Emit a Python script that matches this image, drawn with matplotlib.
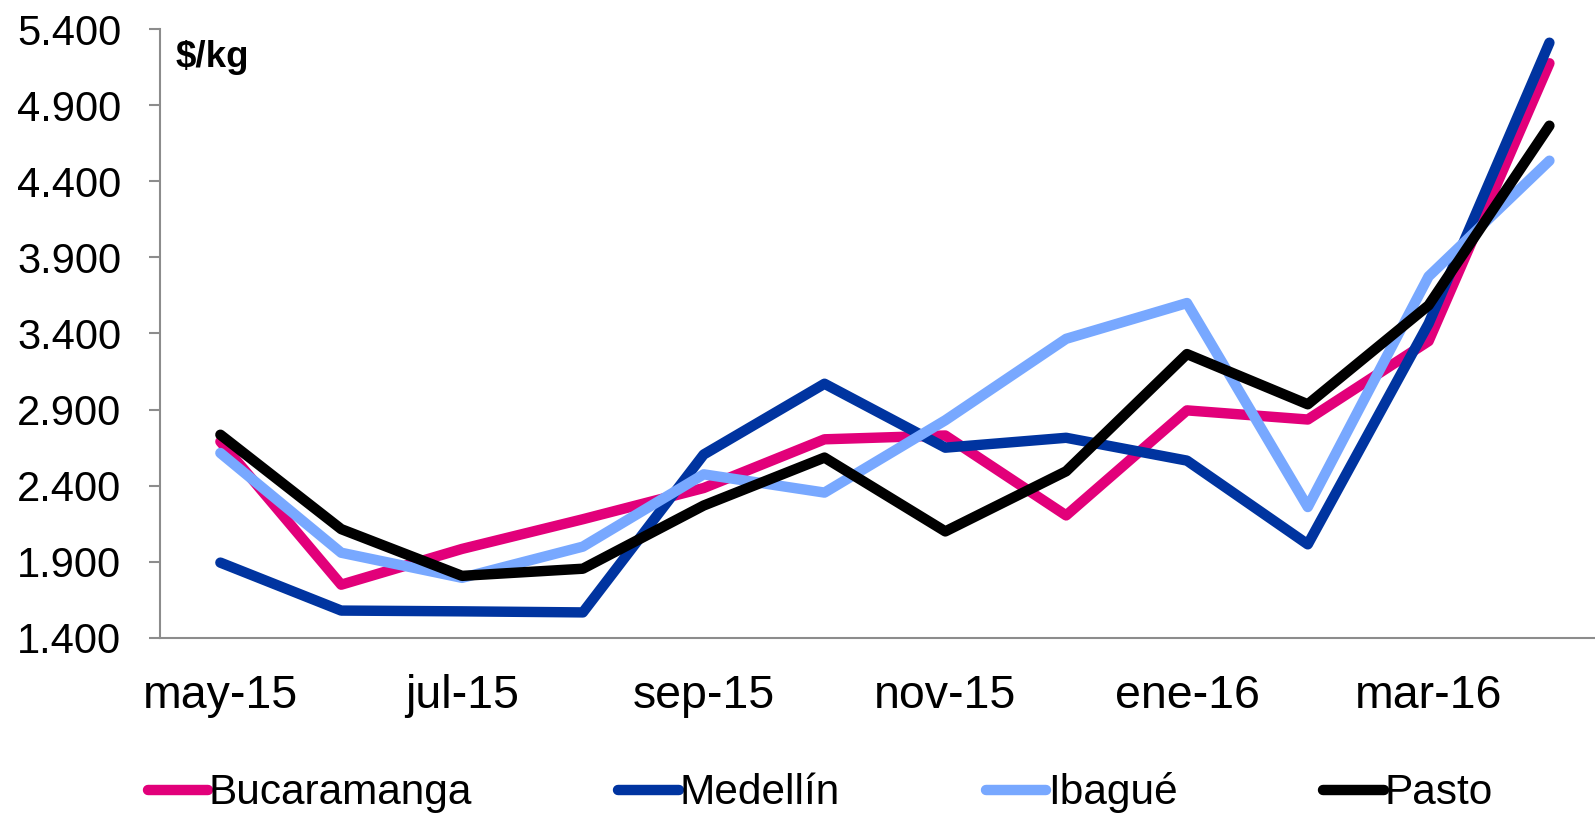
import matplotlib.pyplot as plt
import numpy as np

plt.rcParams['font.family'] = ['Liberation Sans', 'DejaVu Sans']

# months (only every other one is labelled)
months = ["may-15", "jun-15", "jul-15", "ago-15", "sep-15", "oct-15",
          "nov-15", "dic-15", "ene-16", "feb-16", "mar-16", "abr-16"]

bucaramanga = [2690, 1750, 1985, 2180, 2385, 2705, 2730, 2205, 2895, 2835, 3350, 5175]
medellin = [1895, 1580, 1575, 1568, 2605, 3070, 2650, 2715, 2565, 2015, 3465, 5310]
ibague = [2615, 1960, 1795, 2000, 2475, 2355, 2830, 3365, 3600, 2260, 3775, 4535]
pasto = [2735, 2115, 1808, 1855, 2270, 2585, 2100, 2495, 3265, 2935, 3585, 4765]

series = [("Bucaramanga", bucaramanga, "#E2007A"),
          ("Medellín", medellin, "#0034A0"),
          ("Ibagué", ibague, "#78A8FF"),
          ("Pasto", pasto, "#000000")]

fig = plt.figure(figsize=(15.95, 8.15), dpi=100)
ax = fig.add_axes([0.1003, 0.2172, 0.909, 0.7472])

x = np.arange(len(months))
for name, vals, col in series:
    ax.plot(x, vals, color=col, lw=7.5, label=name, solid_capstyle="round")

ax.set_xlim(-0.5, 11.5)
ax.set_ylim(1400, 5400)
ax.set_yticks(np.arange(1400, 5401, 500))
ax.set_yticklabels([f"{v:,}".replace(",", ".") for v in range(1400, 5401, 500)])
ax.set_xticks(x[::2])
ax.set_xticklabels(months[::2])

for s in ["top", "right"]:
    ax.spines[s].set_visible(False)
for s in ["left", "bottom"]:
    ax.spines[s].set_color("#8c8c8c")
    ax.spines[s].set_linewidth(1.5)

ax.tick_params(axis="y", labelsize=30, length=8, width=1.5, color="#8c8c8c", pad=20)
ax.tick_params(axis="x", labelsize=33.5, length=0, pad=26)

ax.text(0.011, 0.953, "$/kg", transform=ax.transAxes, fontsize=26.5,
        fontweight="bold", va="center", ha="left")

fig.legend(loc="center left", bbox_to_anchor=(0.0925, 0.027), ncol=4,
           frameon=False, fontsize=30.5, handlelength=1.42, handletextpad=0.03,
           columnspacing=3.45, borderpad=0, borderaxespad=0)

fig.savefig("out.png", dpi=100)
